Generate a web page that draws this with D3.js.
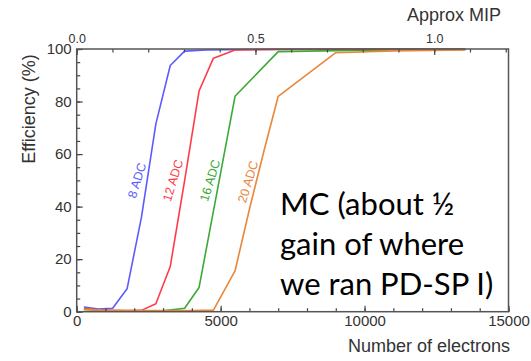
<!DOCTYPE html>
<html>
<head>
<meta charset="utf-8">
<script src="https://cdn.jsdelivr.net/npm/d3@7"></script>
<style>
  body { margin: 0; background: #fff; }
  svg { display: block; }
  .tick text { font-family: "Liberation Sans", Arial, sans-serif; fill: #333; }
  .axis-title { font-family: "Liberation Sans", Arial, sans-serif; fill: #333; font-size: 18px; }
  .curve-label { font-family: "Liberation Sans", Arial, sans-serif; font-size: 12.5px; }
  .note { font-family: Lato, "Open Sans", sans-serif; font-size: 31px; fill: #000; }
</style>
</head>
<body>
<svg id="chart"></svg>
<script>
// efficiency curves (x in electrons, y in %)
const adc8X = [250, 750, 1250, 1750, 2250, 2750, 3250, 3750, 4500, 6000, 8000, 10000, 12000, 13500];
const adc8Y = [1.8, 1.0, 1.3, 8.7, 36, 71.5, 93.7, 99.2, 99.6, 99.8, 99.9, 100, 100, 100];

const adc12X = [250, 750, 1250, 1750, 2250, 2750, 3250, 3750, 4250, 4750, 5500, 7000, 9000, 11000, 13500];
const adc12Y = [1.2, 0.7, 0.5, 0.4, 0.5, 3, 17.2, 50, 84, 96.5, 99.6, 99.8, 99.9, 100, 100];

const adc16X = [250, 1000, 2000, 3000, 3750, 4250, 5500, 7000, 9000, 11000, 13500];
const adc16Y = [0.9, 0.4, 0.3, 0.3, 1.3, 9.2, 82, 99, 99.4, 99.6, 99.8];

const adc20X = [250, 1000, 2000, 3000, 4000, 4750, 5500, 6000, 6500, 7000, 9000, 11000, 13500];
const adc20Y = [0.9, 0.5, 0.4, 0.4, 0.4, 0.6, 15.5, 39, 61, 82, 98.6, 99.3, 99.6];

const seriesNames = ['8 ADC', '12 ADC', '16 ADC', '20 ADC'];
const seriesColors = ['#5b5bff', '#ff3b47', '#3aaa35', '#e8873a'];
// where each label sits (electrons, %)
const labelX = [2090, 3340, 4630, 5950];
const labelY = [50, 50, 50, 49.5];

const xTicks = [0, 5000, 10000, 15000];
const yTicks = [0, 20, 40, 60, 80, 100];
const mipTicks = [0.0, 0.5, 1.0];
const electronsPerMip = 12420;

const noteLines = ['MC (about ½', 'gain of where', 'we ran PD-SP I)'];

class EfficiencyChart {

    constructor(_config) {
        this.config = {
            parentElement: _config.parentElement,
            containerWidth: 531,
            containerHeight: 361,
            margin: {top: 49, right: 22.5, bottom: 49.3, left: 76.7}
        };
        const xs = [adc8X, adc12X, adc16X, adc20X];
        const ys = [adc8Y, adc12Y, adc16Y, adc20Y];
        this.series = seriesNames.map((name, i) => ({
            name: name,
            color: seriesColors[i],
            labelX: labelX[i],
            labelY: labelY[i],
            values: xs[i].map((x, j) => ({x: x, y: ys[i][j]}))
        }));
        this.initVis();
    }

    initVis() {
        let vis = this;

        vis.svg = d3.select(vis.config.parentElement)
            .attr('width', vis.config.containerWidth)
            .attr('height', vis.config.containerHeight);

        vis.width = vis.config.containerWidth - vis.config.margin.left - vis.config.margin.right;
        vis.height = vis.config.containerHeight - vis.config.margin.top - vis.config.margin.bottom;

        vis.chart = vis.svg.append('g')
            .attr('transform', `translate(${vis.config.margin.left},${vis.config.margin.top})`);

        vis.xScale = d3.scaleLinear().domain([0, 15000]).range([0, vis.width]);
        vis.yScale = d3.scaleLinear().domain([0, 100]).range([vis.height, 0]);
        vis.mipScale = d3.scaleLinear().domain([0, 15000 / electronsPerMip]).range([0, vis.width]);

        // ticks point into the plot, minor ticks drawn by their own axes
        vis.xAxis = d3.axisBottom(vis.xScale).tickValues(xTicks).tickSize(-6).tickPadding(4)
            .tickFormat(d3.format('d'));
        vis.xMinor = d3.axisBottom(vis.xScale).tickValues(d3.range(0, 15001, 1000)).tickSize(-3.5).tickFormat('');
        vis.yAxis = d3.axisLeft(vis.yScale).tickValues(yTicks).tickSize(-6).tickPadding(5);
        vis.yMinor = d3.axisLeft(vis.yScale).tickValues(d3.range(0, 101, 5)).tickSize(-3.5).tickFormat('');
        vis.mipAxis = d3.axisTop(vis.mipScale).tickValues(mipTicks).tickSize(-6).tickPadding(6.3)
            .tickFormat(d3.format('.1f'));
        vis.mipMinor = d3.axisTop(vis.mipScale).tickValues(d3.range(0, 1.21, 0.1)).tickSize(-3.5).tickFormat('');

        vis.line = d3.line()
            .x(d => vis.xScale(d.x))
            .y(d => vis.yScale(d.y));
    }

    renderVis() {
        let vis = this;

        vis.chart.selectAll('.curve')
            .data(vis.series)
            .join('path')
            .attr('class', 'curve')
            .attr('d', d => vis.line(d.values))
            .attr('fill', 'none')
            .attr('stroke', d => d.color)
            .attr('stroke-width', 1.6)
            .attr('stroke-linejoin', 'round');

        vis.chart.selectAll('.curve-label')
            .data(vis.series)
            .join('text')
            .attr('class', 'curve-label')
            .attr('text-anchor', 'middle')
            .attr('dy', '0.35em')
            .attr('fill', d => d.color)
            .attr('transform', d => `translate(${vis.xScale(d.labelX)},${vis.yScale(d.labelY)}) rotate(-73)`)
            .text(d => d.name);

        const bottom = vis.chart.append('g').attr('transform', `translate(0,${vis.height})`);
        bottom.append('g').call(vis.xMinor);
        bottom.append('g').call(vis.xAxis).selectAll('text').attr('font-size', 15);

        const left = vis.chart.append('g');
        left.append('g').call(vis.yMinor);
        left.append('g').call(vis.yAxis).selectAll('text').attr('font-size', 15);

        const top = vis.chart.append('g');
        top.append('g').call(vis.mipMinor);
        top.append('g').call(vis.mipAxis).selectAll('text').attr('font-size', 12.5);

        vis.chart.selectAll('.domain').remove();
        vis.chart.selectAll('.tick line').attr('stroke', '#444').attr('stroke-width', 1.2);

        vis.chart.append('rect')
            .attr('width', vis.width)
            .attr('height', vis.height)
            .attr('fill', 'none')
            .attr('stroke', '#555')
            .attr('stroke-width', 1.5);

        // axis titles
        vis.svg.append('text')
            .attr('class', 'axis-title')
            .attr('text-anchor', 'end')
            .attr('x', 510)
            .attr('y', 352)
            .text('Number of electrons');

        vis.svg.append('text')
            .attr('class', 'axis-title')
            .attr('text-anchor', 'end')
            .attr('x', 501)
            .attr('y', 21)
            .text('Approx MIP');

        vis.svg.append('text')
            .attr('class', 'axis-title')
            .attr('text-anchor', 'middle')
            .attr('transform', 'translate(35,109) rotate(-90)')
            .text('Efficiency (%)');

        vis.svg.selectAll('.note')
            .data(noteLines)
            .join('text')
            .attr('class', 'note')
            .attr('x', 280)
            .attr('y', (d, i) => 215 + i * 40)
            .text(d => d);
    }
}

const chart = new EfficiencyChart({parentElement: '#chart'});
chart.renderVis();
</script>
</body>
</html>
